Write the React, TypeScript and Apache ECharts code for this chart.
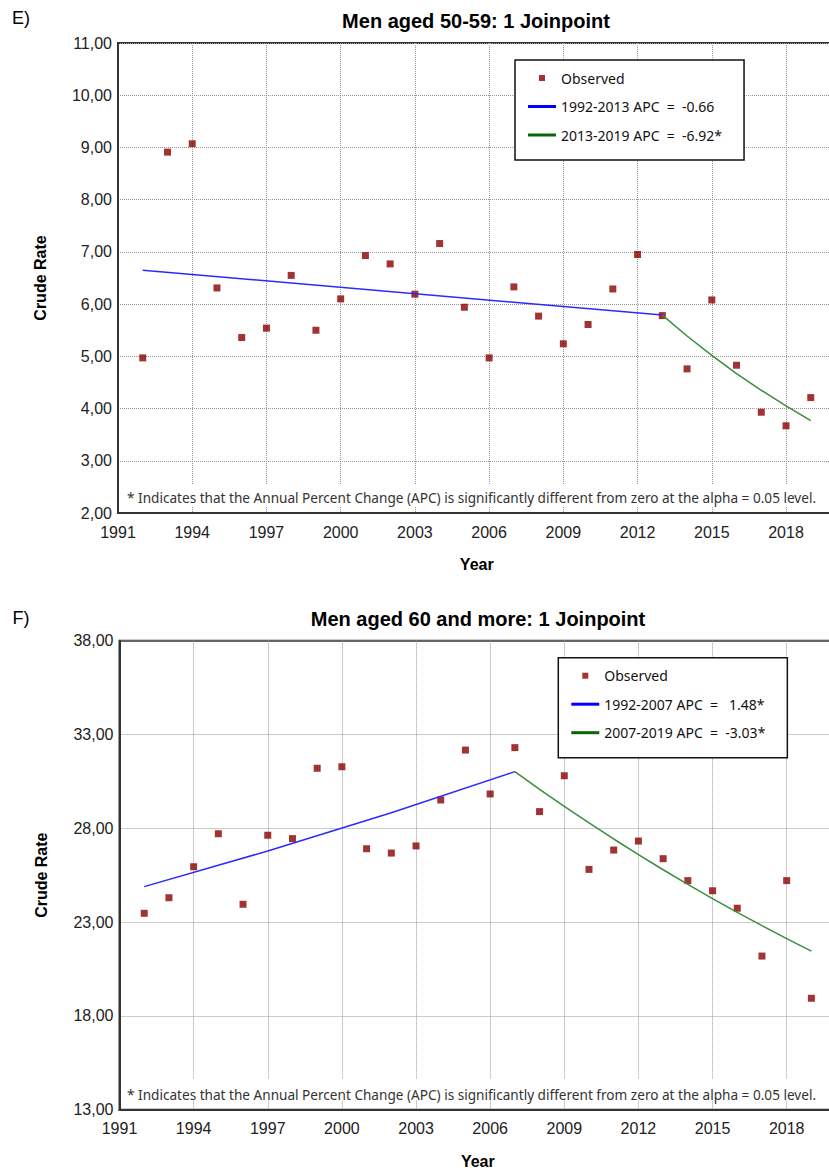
import React, { useEffect, useRef } from "react";
import * as echarts from "echarts";

// ---------- data ----------
const years = [
  1992, 1993, 1994, 1995, 1996, 1997, 1998, 1999, 2000, 2001, 2002, 2003, 2004, 2005,
  2006, 2007, 2008, 2009, 2010, 2011, 2012, 2013, 2014, 2015, 2016, 2017, 2018, 2019,
];
const observedE = [
  4.97, 8.91, 9.07, 6.31, 5.36, 5.54, 6.55, 5.5, 6.1, 6.93, 6.77, 6.19, 7.16, 5.94,
  4.97, 6.33, 5.77, 5.24, 5.61, 6.29, 6.95, 5.78, 4.76, 6.08, 4.83, 3.93, 3.67, 4.21,
];
const observedF = [
  23.47, 24.3, 25.95, 27.71, 23.95, 27.63, 27.45, 31.2, 31.28, 26.91, 26.68, 27.06, 29.51, 32.17,
  29.83, 32.3, 28.89, 30.8, 25.81, 26.84, 27.32, 26.38, 25.21, 24.67, 23.74, 21.19, 25.21, 18.94,
];
const trendE1Years = [1992, 2013];
const trendE1 = [6.65, 5.79];
const trendE2Years = [2013, 2014, 2015, 2016, 2017, 2018, 2019];
const trendE2 = [5.79, 5.39, 5.02, 4.67, 4.35, 4.05, 3.77];
const trendF1Years = [1992, 1997, 2002, 2007];
const trendF1 = [24.89, 26.79, 28.83, 31.02];
const trendF2Years = [2007, 2008, 2009, 2010, 2011, 2012, 2013, 2014, 2015, 2016, 2017, 2018, 2019];
const trendF2 = [31.02, 30.08, 29.17, 28.29, 27.43, 26.6, 25.79, 25.01, 24.25, 23.52, 22.81, 22.12, 21.45];

const xMin = 1991;
const xMax = 2020;
const xInterval = 3;
const yE = { min: 2, max: 11, interval: 1 };
const yF = { min: 13, max: 38, interval: 5 };

const NB = "\u00A0";
const legendE = ["Observed", `1992-2013 APC ${NB}= ${NB}-0.66`, `2013-2019 APC ${NB}= ${NB}-6.92*`];
const legendF = ["Observed", `1992-2007 APC ${NB}= ${NB}${NB}1.48*`, `2007-2019 APC ${NB}= ${NB}-3.03*`];
const titleE = "Men aged 50-59: 1 Joinpoint";
const titleF = "Men aged 60 and more: 1 Joinpoint";
const noteText =
  "* Indicates that the Annual Percent Change (APC) is significantly different from zero at the alpha = 0.05 level.";

const pairs = (xs: number[], ys: number[]) => xs.map((x, i) => [x, ys[i]]);

const LABEL_FONT = "'Liberation Sans', Arial, sans-serif";
const UI_FONT = "'Noto Sans', 'Open Sans', sans-serif";
const MARKER = "#8b0000";
const BLUE = "#2a2aff";
const GREEN = "#3a8d3a";
const OBS_ICON = "path://M0,0M28,14M11,4L17,4L17,10L11,10Z";
const LINE_ICON = "path://M0,0L28,0L28,3L0,3Z";

function makeAxes(gridIndex: number, y: { min: number; max: number; interval: number }, nameGapX: number) {
  const xAxis = {
    type: "value",
    gridIndex,
    min: xMin,
    max: xMax,
    interval: xInterval,
    name: "Year",
    nameLocation: "middle",
    nameGap: nameGapX,
    nameTextStyle: { fontFamily: LABEL_FONT, fontSize: 16, fontWeight: "bold", color: "#000" },
    axisLine: { show: true, onZero: false, lineStyle: { color: "#333", width: 2 } },
    axisTick: { show: false },
    axisLabel: {
      fontFamily: LABEL_FONT,
      fontSize: 16,
      color: "#222",
      margin: 11,
      showMaxLabel: false,
      formatter: (v: number) => String(v),
    },
    splitLine: { show: true, lineStyle: { type: "dotted", color: "#999", width: 1 } },
  };
  const yAxis = {
    type: "value",
    gridIndex,
    min: y.min,
    max: y.max,
    interval: y.interval,
    name: "Crude Rate",
    nameLocation: "middle",
    nameGap: 70,
    nameTextStyle: { fontFamily: LABEL_FONT, fontSize: 16, fontWeight: "bold", color: "#000" },
    axisLine: { show: true, lineStyle: { color: "#333", width: 2 } },
    axisTick: { show: false },
    axisLabel: {
      fontFamily: LABEL_FONT,
      fontSize: 16,
      color: "#222",
      margin: 6,
      formatter: (v: number) => v.toFixed(2).replace(".", ","),
    },
    splitLine: { show: true, lineStyle: { type: "dotted", color: "#999", width: 1 } },
  };
  return { xAxis, yAxis };
}

function makeLegend(names: string[], left: number, top: number) {
  return {
    orient: "vertical",
    left,
    top,
    padding: [11, 22, 18, 13],
    itemGap: 14.5,
    itemWidth: 28,
    itemHeight: 14,
    borderColor: "#111",
    borderWidth: 1.5,
    backgroundColor: "#fff",
    selectedMode: false,
    textStyle: { fontFamily: UI_FONT, fontSize: 14, color: "#111" },
    data: [
      { name: names[0], icon: OBS_ICON },
      { name: names[1], icon: LINE_ICON, itemStyle: { color: "#0000ff" } },
      { name: names[2], icon: LINE_ICON, itemStyle: { color: "#0a640a" } },
    ],
  };
}

export default function App() {
  const ref = useRef<HTMLDivElement>(null);
  useEffect(() => {
    if (!ref.current) return;
    const chart = echarts.init(ref.current, null, { renderer: "svg" });
    const a0 = makeAxes(0, yE, 43);
    const a1 = makeAxes(1, yF, 44);
    const option: any = {
      animation: false,
      backgroundColor: "#fff",
      title: [
        {
          text: titleE,
          left: 476,
          top: 20.5,
          padding: 0,
          textAlign: "center",
          textVerticalAlign: "middle",
          textStyle: { fontFamily: LABEL_FONT, fontSize: 20, fontWeight: "bold", color: "#000" },
        },
        {
          text: titleF,
          left: 478,
          top: 619,
          padding: 0,
          textAlign: "center",
          textVerticalAlign: "middle",
          textStyle: { fontFamily: LABEL_FONT, fontSize: 20, fontWeight: "bold", color: "#000" },
        },
      ],
      grid: [
        { left: 118, top: 43, width: 717.5, height: 470, outerBoundsMode: "none", show: true, borderColor: "#333", borderWidth: 2, backgroundColor: "transparent" },
        { left: 119.5, top: 640.7, width: 716.6, height: 469, outerBoundsMode: "none", show: true, borderColor: "#333", borderWidth: 2, backgroundColor: "transparent" },
      ],
      xAxis: [a0.xAxis, a1.xAxis],
      yAxis: [a0.yAxis, a1.yAxis],
      legend: [makeLegend(legendE, 515, 60), makeLegend(legendF, 558.3, 657.7)],
      graphic: [
        { type: "text", x: 12, y: 18, z: 2, style: { text: "E)", font: `18px ${LABEL_FONT}`, fill: "#000", textVerticalAlign: "middle" } },
        { type: "text", x: 12.5, y: 617.5, z: 2, style: { text: "F)", font: `18px ${LABEL_FONT}`, fill: "#000", textVerticalAlign: "middle" } },
        { type: "rect", z: 1, shape: { x: 120, y: 484, width: 709, height: 22 }, style: { fill: "#fff" } },
        { type: "rect", z: 1, shape: { x: 121, y: 1079, width: 708, height: 21 }, style: { fill: "#fff" } },
        { type: "text", x: 127, y: 497, z: 2, style: { text: noteText, font: `13.6px ${UI_FONT}`, fill: "#333", textVerticalAlign: "middle" } },
        { type: "text", x: 127, y: 1094, z: 2, style: { text: noteText, font: `13.6px ${UI_FONT}`, fill: "#333", textVerticalAlign: "middle" } },
      ],
      series: [
        { type: "scatter", name: legendE[0], xAxisIndex: 0, yAxisIndex: 0, symbol: "rect", symbolSize: 7, itemStyle: { color: MARKER }, z: 2, data: pairs(years, observedE) },
        { type: "line", name: legendE[1], xAxisIndex: 0, yAxisIndex: 0, symbol: "none", lineStyle: { color: BLUE, width: 1.5 }, itemStyle: { color: BLUE }, z: 3, data: pairs(trendE1Years, trendE1) },
        { type: "line", name: legendE[2], xAxisIndex: 0, yAxisIndex: 0, symbol: "none", lineStyle: { color: GREEN, width: 1.5 }, itemStyle: { color: GREEN }, z: 3, data: pairs(trendE2Years, trendE2) },
        { type: "scatter", name: legendF[0], xAxisIndex: 1, yAxisIndex: 1, symbol: "rect", symbolSize: 7, itemStyle: { color: MARKER }, z: 2, data: pairs(years, observedF) },
        { type: "line", name: legendF[1], xAxisIndex: 1, yAxisIndex: 1, symbol: "none", lineStyle: { color: BLUE, width: 1.5 }, itemStyle: { color: BLUE }, z: 3, data: pairs(trendF1Years, trendF1) },
        { type: "line", name: legendF[2], xAxisIndex: 1, yAxisIndex: 1, symbol: "none", lineStyle: { color: GREEN, width: 1.5 }, itemStyle: { color: GREEN }, z: 3, data: pairs(trendF2Years, trendF2) },
      ],
    };
    chart.setOption(option);
    return () => chart.dispose();
  }, []);
  return <div ref={ref} style={{ position: "absolute", left: 0, top: 0, width: 829, height: 1171 }} />;
}
